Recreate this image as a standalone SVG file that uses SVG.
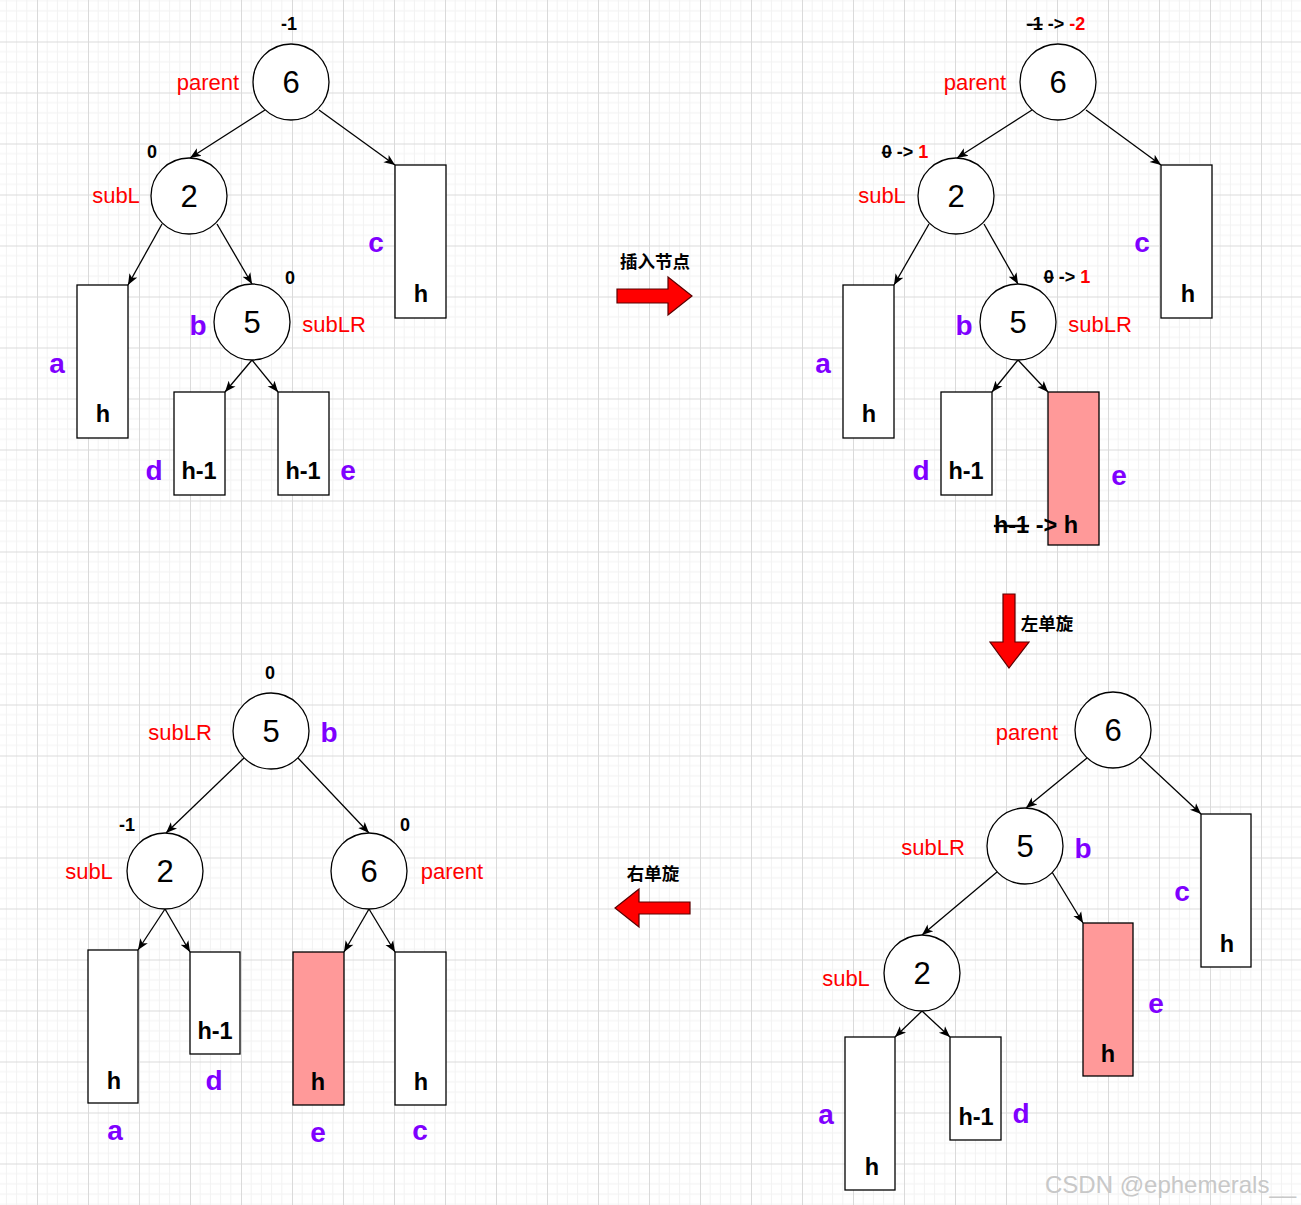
<svg xmlns="http://www.w3.org/2000/svg" width="1301" height="1205" viewBox="0 0 1301 1205">
<defs>
<pattern id="grid" x="37" y="41.5" width="51" height="51" patternUnits="userSpaceOnUse">
<path d="M10.2 0V51M20.4 0V51M30.6 0V51M40.8 0V51M0 10.2H51M0 20.4H51M0 30.6H51M0 40.8H51" stroke="#f2f2f2" stroke-width="1" fill="none"/>
<path d="M0.5 0V51M0 0.5H51" stroke="#dadada" stroke-width="1" fill="none"/>
</pattern>
<marker id="ah" markerUnits="userSpaceOnUse" markerWidth="12" markerHeight="11" refX="11" refY="5.5" orient="auto">
<path d="M0,1 L11,5.5 L0,10 L2.8,5.5 Z" fill="#000"/>
</marker>
</defs>
<style>
.n circle{fill:#fff;stroke:#000;stroke-width:1.3}
.n text.v{font-family:"Liberation Sans",Arial,sans-serif;font-size:31px;text-anchor:middle;fill:#000}
.r rect{fill:#fff;stroke:#000;stroke-width:1.3}
.r rect.pk{fill:#FF9999}
.hl{font-family:"Liberation Sans",Arial,sans-serif;font-size:23.5px;font-weight:bold;text-anchor:middle;fill:#000}
.rd{font-family:"Liberation Sans",Arial,sans-serif;font-size:22px;text-anchor:middle;fill:#FF0000}
.pu{font-family:"Liberation Sans",Arial,sans-serif;font-size:28px;font-weight:bold;text-anchor:middle;fill:#7F00FF}
.bf{font-family:"Liberation Sans",Arial,sans-serif;font-size:18px;font-weight:bold;text-anchor:middle;fill:#000}
.cj{font-family:"Liberation Sans","Noto Sans CJK SC",sans-serif;font-size:17.5px;font-weight:bold;text-anchor:middle;fill:#000}
.e line{stroke:#000;stroke-width:1.3;marker-end:url(#ah)}
.ba{fill:#FF0000;stroke:#5a0000;stroke-width:1.2}
.st{text-decoration:line-through}
.red{fill:#FF0000}
</style>
<rect width="1301" height="1205" fill="#fff"/>
<rect width="1301" height="1205" fill="url(#grid)"/>

<g id="connectors" class="e">
<line x1="265" y1="110" x2="190" y2="158"/>
<line x1="319" y1="110" x2="395" y2="165"/>
<line x1="162" y1="224" x2="128" y2="285"/>
<line x1="217" y1="224" x2="252" y2="284"/>
<line x1="252" y1="360" x2="225" y2="392"/>
<line x1="252" y1="360" x2="278" y2="392"/>

<line x1="1032" y1="110" x2="957" y2="158"/>
<line x1="1086" y1="110" x2="1161" y2="165"/>
<line x1="929" y1="224" x2="894" y2="285"/>
<line x1="984" y1="224" x2="1018" y2="284"/>
<line x1="1018" y1="360" x2="992" y2="392"/>
<line x1="1018" y1="360" x2="1048" y2="392"/>

<line x1="1087" y1="758" x2="1026" y2="808"/>
<line x1="1140" y1="757" x2="1201" y2="814"/>
<line x1="997" y1="872" x2="922" y2="935"/>
<line x1="1052" y1="872" x2="1083" y2="923"/>
<line x1="922" y1="1011" x2="895" y2="1037"/>
<line x1="922" y1="1011" x2="950" y2="1037"/>

<line x1="244" y1="758" x2="166" y2="833"/>
<line x1="298" y1="758" x2="369" y2="833"/>
<line x1="165" y1="909" x2="138" y2="950"/>
<line x1="165" y1="909" x2="190" y2="952"/>
<line x1="369" y1="909" x2="344" y2="952"/>
<line x1="369" y1="909" x2="395" y2="952"/>
</g>

<!-- Top-left tree -->
<g id="tl-6" class="n"><circle cx="291" cy="82" r="38"/><text class="v" x="291" y="93">6</text>
<text class="bf" x="289" y="30">-1</text><text class="rd" x="208" y="90">parent</text></g>
<g id="tl-2" class="n"><circle cx="189" cy="196" r="38"/><text class="v" x="189" y="207">2</text>
<text class="bf" x="152" y="158">0</text><text class="rd" x="116" y="203">subL</text></g>
<g id="tl-5" class="n"><circle cx="252" cy="322" r="38"/><text class="v" x="252" y="333">5</text>
<text class="bf" x="290" y="284">0</text><text class="pu" x="198" y="335">b</text><text class="rd" x="334" y="332">subLR</text></g>
<g id="tl-a" class="r"><rect x="77" y="285" width="51" height="153"/><text class="hl" x="103" y="422">h</text><text class="pu" x="57" y="373">a</text></g>
<g id="tl-c" class="r"><rect x="395" y="165" width="51" height="153"/><text class="hl" x="421" y="302">h</text><text class="pu" x="376" y="252">c</text></g>
<g id="tl-d" class="r"><rect x="174" y="392" width="51" height="103"/><text class="hl" x="199" y="479">h-1</text><text class="pu" x="154" y="480">d</text></g>
<g id="tl-e" class="r"><rect x="278" y="392" width="51" height="103"/><text class="hl" x="303" y="479">h-1</text><text class="pu" x="348" y="480">e</text></g>

<!-- Insert arrow -->
<g id="arrow-insert"><polygon class="ba" points="617,289 668,289 668,277 692,296 668,315 668,303 617,303"/><text class="cj" x="655" y="268">插入节点</text></g>

<!-- Top-right tree -->
<g id="tr-6" class="n"><circle cx="1058" cy="82" r="38"/><text class="v" x="1058" y="93">6</text>
<text class="bf" x="1056" y="30"><tspan class="st">-1</tspan> -&gt; <tspan class="red">-2</tspan></text><text class="rd" x="975" y="90">parent</text></g>
<g id="tr-2" class="n"><circle cx="956" cy="196" r="38"/><text class="v" x="956" y="207">2</text>
<text class="bf" x="905" y="158"><tspan class="st">0</tspan> -&gt; <tspan class="red">1</tspan></text><text class="rd" x="882" y="203">subL</text></g>
<g id="tr-5" class="n"><circle cx="1018" cy="322" r="38"/><text class="v" x="1018" y="333">5</text>
<text class="bf" x="1067" y="283"><tspan class="st">0</tspan> -&gt; <tspan class="red">1</tspan></text><text class="pu" x="964" y="335">b</text><text class="rd" x="1100" y="332">subLR</text></g>
<g id="tr-a" class="r"><rect x="843" y="285" width="51" height="153"/><text class="hl" x="869" y="422">h</text><text class="pu" x="823" y="373">a</text></g>
<g id="tr-c" class="r"><rect x="1161" y="165" width="51" height="153"/><text class="hl" x="1188" y="302">h</text><text class="pu" x="1142" y="252">c</text></g>
<g id="tr-d" class="r"><rect x="941" y="392" width="51" height="103"/><text class="hl" x="966" y="479">h-1</text><text class="pu" x="921" y="480">d</text></g>
<g id="tr-e" class="r"><rect class="pk" x="1048" y="392" width="51" height="153"/><text class="hl" x="1036" y="533"><tspan class="st">h-1</tspan> -&gt; h</text><text class="pu" x="1119" y="485">e</text></g>

<!-- Left rotation arrow -->
<g id="arrow-left-rot"><polygon class="ba" points="1003,594 1015,594 1015,642 1029,642 1009,668 990,642 1003,642"/><text class="cj" x="1047" y="630">左单旋</text></g>

<!-- Bottom-right tree -->
<g id="br-6" class="n"><circle cx="1113" cy="730" r="38"/><text class="v" x="1113" y="741">6</text>
<text class="rd" x="1027" y="740">parent</text></g>
<g id="br-5" class="n"><circle cx="1025" cy="846" r="38"/><text class="v" x="1025" y="857">5</text>
<text class="rd" x="933" y="855">subLR</text><text class="pu" x="1083" y="858">b</text></g>
<g id="br-2" class="n"><circle cx="922" cy="973" r="38"/><text class="v" x="922" y="984">2</text>
<text class="rd" x="846" y="986">subL</text></g>
<g id="br-c" class="r"><rect x="1201" y="814" width="50" height="153"/><text class="hl" x="1227" y="952">h</text><text class="pu" x="1182" y="901">c</text></g>
<g id="br-e" class="r"><rect class="pk" x="1083" y="923" width="50" height="153"/><text class="hl" x="1108" y="1062">h</text><text class="pu" x="1156" y="1013">e</text></g>
<g id="br-a" class="r"><rect x="845" y="1037" width="50" height="153"/><text class="hl" x="872" y="1175">h</text><text class="pu" x="826" y="1124">a</text></g>
<g id="br-d" class="r"><rect x="950" y="1037" width="51" height="103"/><text class="hl" x="976" y="1125">h-1</text><text class="pu" x="1021" y="1123">d</text></g>

<!-- Right rotation arrow -->
<g id="arrow-right-rot"><polygon class="ba" points="690,902 690,914 639,914 639,927 615,908 639,889 639,902"/><text class="cj" x="653" y="880">右单旋</text></g>

<!-- Bottom-left tree -->
<g id="bl-5" class="n"><circle cx="271" cy="731" r="38"/><text class="v" x="271" y="742">5</text>
<text class="bf" x="270" y="679">0</text><text class="rd" x="180" y="740">subLR</text><text class="pu" x="329" y="742">b</text></g>
<g id="bl-2" class="n"><circle cx="165" cy="871" r="38"/><text class="v" x="165" y="882">2</text>
<text class="bf" x="127" y="831">-1</text><text class="rd" x="89" y="879">subL</text></g>
<g id="bl-6" class="n"><circle cx="369" cy="871" r="38"/><text class="v" x="369" y="882">6</text>
<text class="bf" x="405" y="831">0</text><text class="rd" x="452" y="879">parent</text></g>
<g id="bl-a" class="r"><rect x="88" y="950" width="50" height="153"/><text class="hl" x="114" y="1089">h</text><text class="pu" x="115" y="1140">a</text></g>
<g id="bl-d" class="r"><rect x="190" y="952" width="50" height="102"/><text class="hl" x="215" y="1039">h-1</text><text class="pu" x="214" y="1090">d</text></g>
<g id="bl-e" class="r"><rect class="pk" x="293" y="952" width="51" height="153"/><text class="hl" x="318" y="1090">h</text><text class="pu" x="318" y="1142">e</text></g>
<g id="bl-c" class="r"><rect x="395" y="952" width="51" height="153"/><text class="hl" x="421" y="1090">h</text><text class="pu" x="420" y="1140">c</text></g>

<text x="1045" y="1193" font-family="Liberation Sans,Arial,sans-serif" font-size="24" fill="#c8c8c8">CSDN @ephemerals__</text>
</svg>
